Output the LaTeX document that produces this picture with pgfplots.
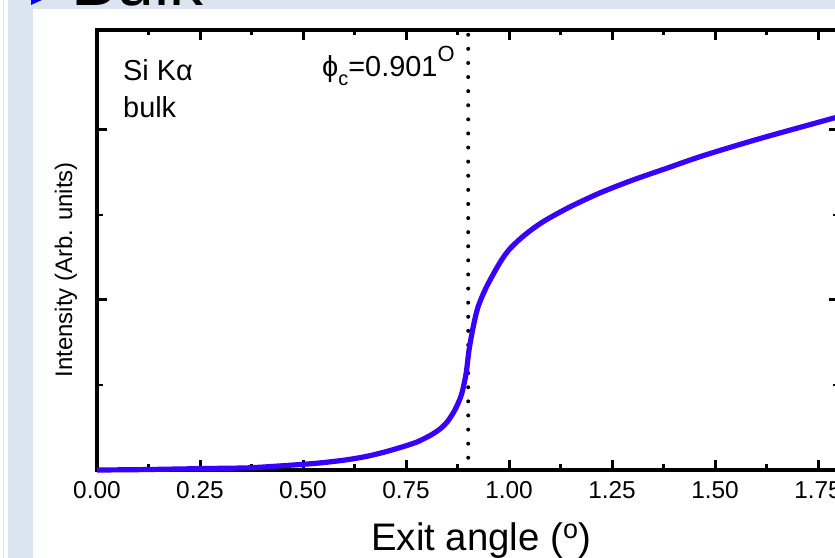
\documentclass[border=0pt]{standalone}
\usepackage{fontspec}
\setmainfont{Liberation Sans}
\usepackage{pgfplots}
\pgfplotsset{compat=1.18}
\definecolor{slide}{RGB}{219,229,241}
\definecolor{curve}{RGB}{55,0,255}
\begin{document}
\begin{tikzpicture}
\useasboundingbox (0bp,0bp) rectangle (835bp,558bp);
\clip (0bp,0bp) rectangle (835bp,558bp);
\fill[white] (0bp,0bp) rectangle (835bp,558bp);
\fill[slide] (8bp,0bp) rectangle (835bp,558bp);
\fill[white] (33bp,0bp) rectangle (835bp,549bp);
\draw[black!12, line width=0.8bp] (3bp,0bp) -- (3bp,558bp);
\node[anchor=base west, inner sep=0, font=\fontsize{68}{80}\selectfont] at (71bp,552bp) {Bulk};
\fill[blue] (31bp,558bp) -- (42bp,558bp) -- (31bp,553bp) -- cycle;
\begin{axis}[
  at={(97bp,88bp)}, anchor=south west, scale only axis,
  width=741.6bp, height=440bp,
  xmin=0, xmax=1.8, ymin=0, ymax=2.588,
  xtick={0,0.25,0.5,0.75,1,1.25,1.5,1.75},
  minor x tick num=1,
  ytick={0,1,2}, minor y tick num=1,
  yticklabels={},
  tick align=inside,
  major tick length=10bp, minor tick length=5.5bp,
  major tick style={line width=3bp, black},
  minor tick style={line width=2.6bp, black},
  axis line style={line width=3.3bp, black},
  xticklabel style={/pgf/number format/.cd, fixed, fixed zerofill, precision=2, assume math mode=true},
  ticklabel style={font=\fontsize{24.5}{28}\selectfont, yshift=-8bp},
  xlabel={Exit angle (\raisebox{0.3em}{\fontsize{27}{30}\selectfont o})},
  xlabel style={font=\fontsize{38.5}{44}\selectfont, at={(axis description cs:0.518,0)}, anchor=base, yshift=-80bp},
  ylabel={Intensity (Arb. units)},
  ylabel style={font=\fontsize{24}{28}\selectfont, at={(axis description cs:-0.0337,0.455)}, anchor=base, rotate=0},
  clip=false,
]
\addplot[draw=black, line width=4bp, line cap=round, dash pattern=on 0bp off 14.1bp]
  coordinates {(0.901,2.56) (0.901,0)};
\addplot[draw=curve, line width=5.2bp, smooth, tension=0.5] coordinates {
(0.00,0.000) (0.10,0.002) (0.20,0.006) (0.30,0.010) (0.371,0.013) (0.45,0.025)
(0.534,0.040) (0.60,0.058) (0.65,0.078) (0.694,0.103) (0.74,0.135) (0.777,0.165)
(0.81,0.205) (0.833,0.242) (0.85,0.283) (0.864,0.333) (0.876,0.39) (0.886,0.455)
(0.896,0.57) (0.903,0.706) (0.913,0.84) (0.925,0.96) (0.946,1.08) (0.978,1.22)
(1.00,1.295) (1.025,1.355) (1.05,1.405) (1.075,1.448) (1.10,1.485) (1.15,1.55)
(1.221,1.63) (1.30,1.705) (1.383,1.775) (1.46,1.84) (1.544,1.903) (1.62,1.957)
(1.706,2.015) (1.80,2.078)
};
\end{axis}
\node[anchor=base west, inner sep=0, font=\fontsize{29}{34}\selectfont] at (123bp,477bp) {Si Kα};
\node[anchor=base west, inner sep=0, font=\fontsize{29}{34}\selectfont] at (123bp,440bp) {bulk};
\node[anchor=base west, inner sep=0, font=\fontsize{29}{34}\selectfont] at (322bp,481bp) {ϕ\raisebox{-0.28em}{\fontsize{20}{22}\selectfont c}=0.901\raisebox{0.55em}{\fontsize{22}{24}\selectfont O}};
\end{tikzpicture}
\end{document}
